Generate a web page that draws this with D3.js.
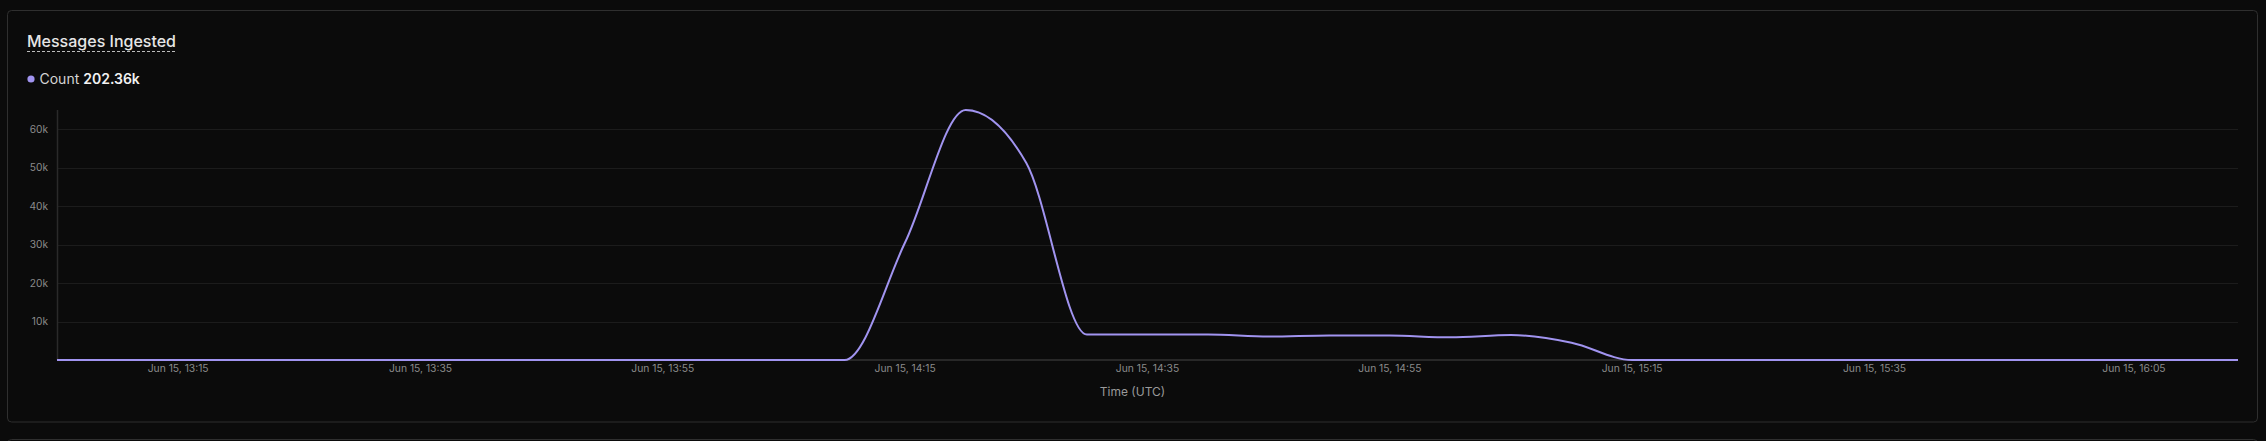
<!DOCTYPE html>
<html>
<head>
<meta charset="utf-8">
<script src="https://cdn.jsdelivr.net/npm/d3@7/dist/d3.min.js"></script>
<style>
  html, body { margin: 0; padding: 0; background: #0b0b0b; }
  svg { display: block; }
  text { font-family: Inter, "Noto Sans", sans-serif; }
</style>
</head>
<body>
<svg id="chart" width="2266" height="441"></svg>
<script>
// ---- data ----
const title = "Messages Ingested";
const seriesName = "Count";
const startTime = "2024-06-15T13:05:00Z";
const stepMinutes = 5;
const countValues = [
  0, 0, 0, 0, 0, 0, 0, 0, 0, 0, 0, 0, 0, 0,          // 13:05 - 14:10
  30600, 65000, 51200, 6600, 6600, 6600, 6110, 6400, // 14:15 - 14:50
  6350, 5900, 6500, 4500,                            // 14:55 - 15:10
  0, 0, 0, 0, 0, 0, 0, 0, 0, 0, 0                    // 15:15 - 16:05
];
const xTickTimes = ["13:15", "13:35", "13:55", "14:15", "14:35", "14:55", "15:15", "15:35", "16:05"];
const yTickValues = [10000, 20000, 30000, 40000, 50000, 60000];
const xAxisTitle = "Time (UTC)";

// ---- layout ----
const W = 2266, H = 441;
const panel = { x: 7.5, y: 10.5, w: 2250, h: 411.5 };
const plot = { left: 57, right: 2238, top: 110, bottom: 360 };
const lineColor = "#a194f0";

const t0 = new Date(startTime);
const data = countValues.map((v, i) => ({ t: new Date(t0.getTime() + i * stepMinutes * 60000), v }));

const svg = d3.select("#chart");
svg.append("rect").attr("width", W).attr("height", H).attr("fill", "#0b0b0b");

// panels
svg.append("rect")
  .attr("x", panel.x).attr("y", panel.y).attr("width", panel.w).attr("height", panel.h)
  .attr("rx", 4).attr("fill", "#0b0b0b").attr("stroke", "#2f2f2f").attr("stroke-width", 1);
svg.append("rect")
  .attr("x", panel.x).attr("y", 439.5).attr("width", panel.w).attr("height", 40)
  .attr("rx", 4).attr("fill", "#0b0b0b").attr("stroke", "#2f2f2f").attr("stroke-width", 1);

// scales
const x = d3.scaleUtc().domain(d3.extent(data, d => d.t)).range([plot.left, plot.right]);
const y = d3.scaleLinear().domain([0, d3.max(countValues)]).range([plot.bottom, plot.top]);

// grid
svg.append("g").selectAll("line").data(yTickValues).join("line")
  .attr("x1", plot.left).attr("x2", plot.right)
  .attr("y1", d => Math.round(y(d)) + 0.5).attr("y2", d => Math.round(y(d)) + 0.5)
  .attr("stroke", "#1c1c1c").attr("stroke-width", 1);

// y axis line
svg.append("line")
  .attr("x1", plot.left + 0.5).attr("x2", plot.left + 0.5)
  .attr("y1", plot.top).attr("y2", plot.bottom)
  .attr("stroke", "#2a2a2a").attr("stroke-width", 1.5);
// x axis line
svg.append("line")
  .attr("x1", plot.left).attr("x2", plot.right)
  .attr("y1", plot.bottom).attr("y2", plot.bottom)
  .attr("stroke", "#333333").attr("stroke-width", 1.5);

// y tick labels
const fmtY = d3.format("~s");
svg.append("g").selectAll("text").data(yTickValues).join("text")
  .attr("x", 48).attr("y", d => y(d)).attr("dy", "0.35em")
  .attr("text-anchor", "end").attr("font-size", 10.2).attr("fill", "#8a8a8a")
  .text(d => fmtY(d));

// x tick labels
const parseTick = s => new Date("2024-06-15T" + s + ":00Z");
const fmtX = d3.utcFormat("%b %d, %H:%M");
const lastInset = 104;
svg.append("g").selectAll("text").data(xTickTimes.map(parseTick)).join("text")
  .attr("x", d => Math.min(x(d), plot.right - lastInset))
  .attr("y", 372)
  .attr("text-anchor", "middle").attr("font-size", 10.3).attr("fill", "#8a8a8a")
  .text(d => fmtX(d));

// x axis title
svg.append("text")
  .attr("x", panel.x + panel.w / 2).attr("y", 396)
  .attr("text-anchor", "middle").attr("font-size", 12).attr("fill", "#9a9a9a")
  .text(xAxisTitle);

// line
const line = d3.line().x(d => x(d.t)).y(d => y(d.v)).curve(d3.curveMonotoneX);
svg.append("path").datum(data)
  .attr("d", line).attr("fill", "none")
  .attr("stroke", lineColor).attr("stroke-width", 2).attr("stroke-linejoin", "round");

// title
const titleText = svg.append("text")
  .attr("x", 27).attr("y", 46.5)
  .attr("font-size", 16).attr("font-weight", 500).attr("fill", "#e6e6e6")
  .text(title);
const tw = titleText.node().getComputedTextLength();
svg.append("line")
  .attr("x1", 27).attr("x2", 27 + tw).attr("y1", 51.5).attr("y2", 51.5)
  .attr("stroke", "#bdbdbd").attr("stroke-width", 1).attr("stroke-dasharray", "3,2");

// legend
svg.append("circle").attr("cx", 31).attr("cy", 79).attr("r", 3.6).attr("fill", lineColor);
const leg = svg.append("text").attr("x", 39.5).attr("y", 84).attr("font-size", 14).attr("fill", "#d4d4d4");
leg.append("tspan").text(seriesName + " ");
leg.append("tspan").attr("font-weight", 600).attr("fill", "#f2f2f2")
  .text(d3.format(".2f")(d3.sum(countValues) / 1000) + "k");
</script>
</body>
</html>
